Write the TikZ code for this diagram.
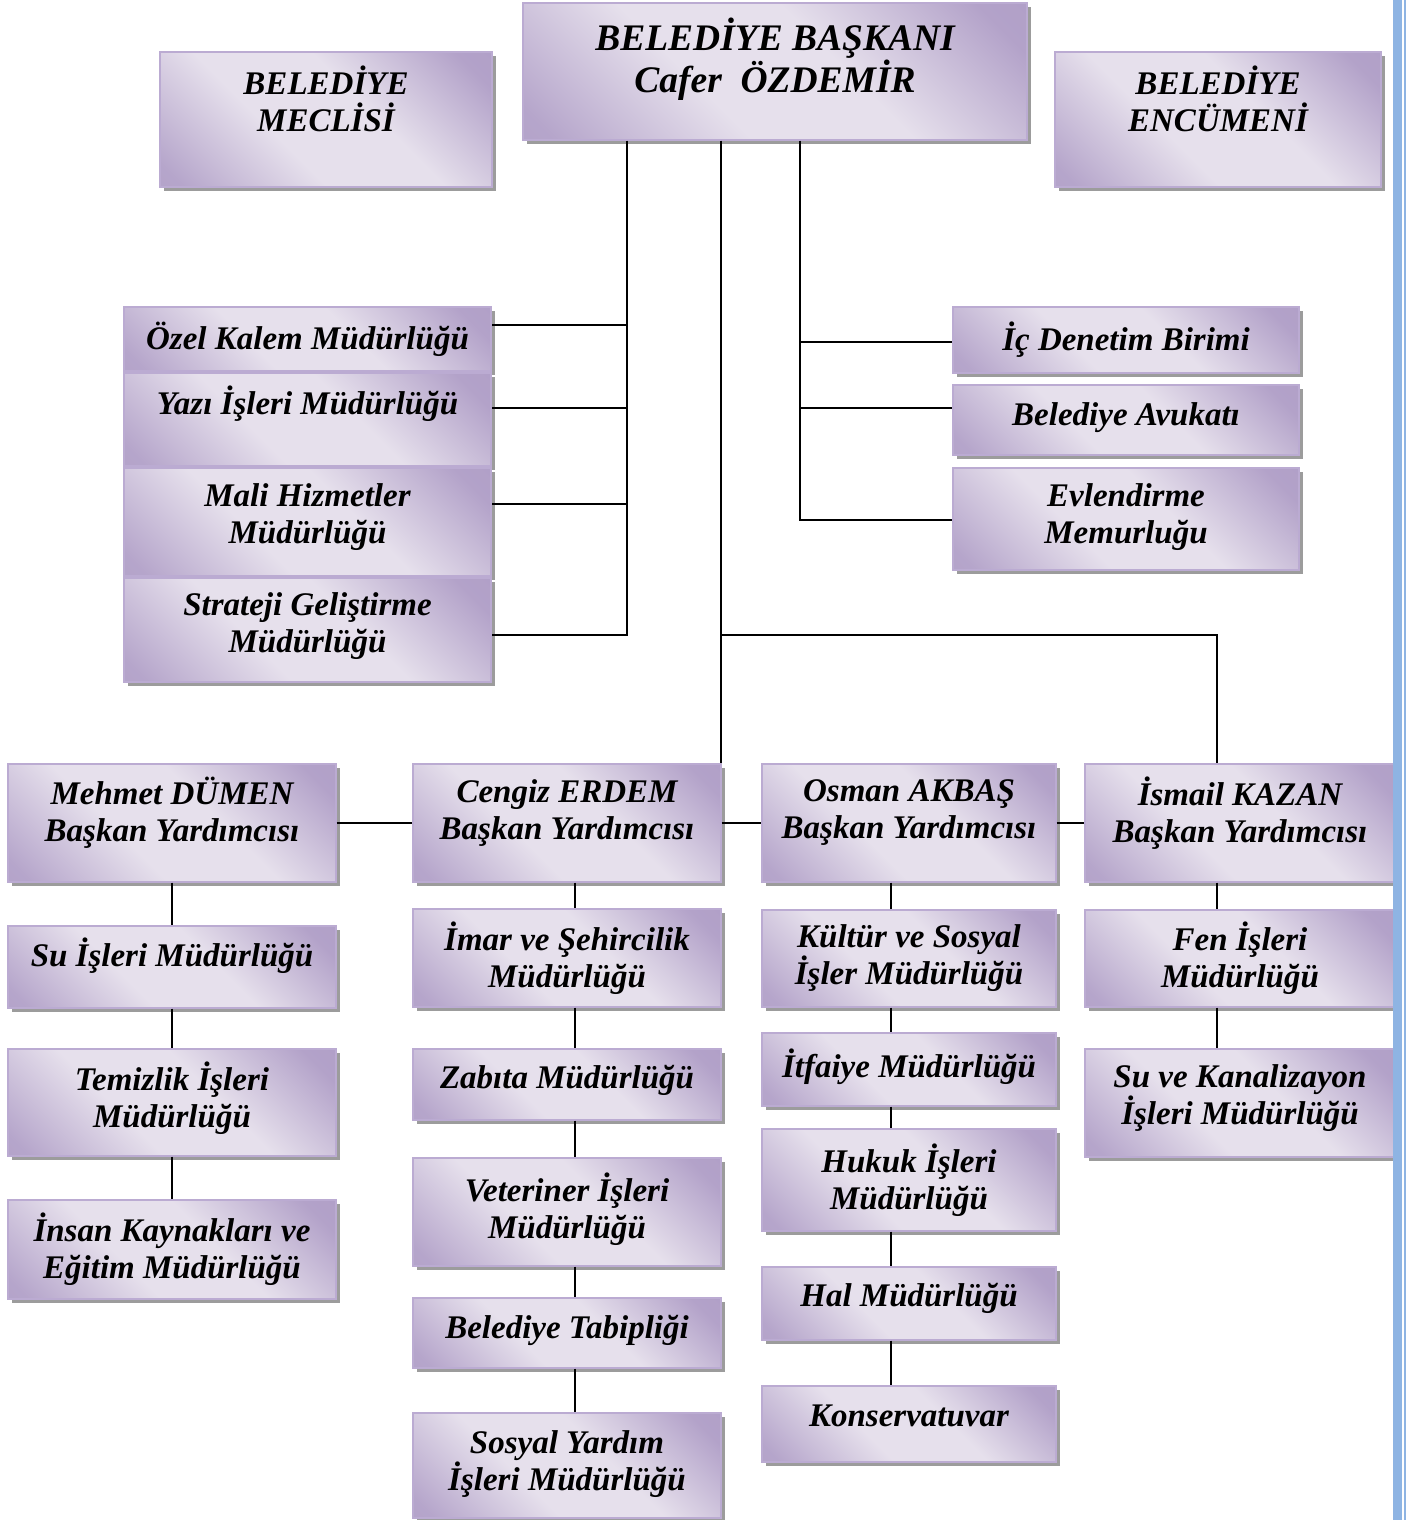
\documentclass[tikz,border=0pt]{standalone}
\usepackage{fontspec}
\setmainfont{Liberation Serif}
\usetikzlibrary{shadows}
\definecolor{boxdark}{HTML}{AD9BC5}
\definecolor{boxlight}{HTML}{E6E0EC}
\definecolor{boxline}{HTML}{BBABD2}
\definecolor{shadowgray}{HTML}{9C9C9C}
\definecolor{barblue}{HTML}{8EB4E3}
\pgfdeclarehorizontalshading{lavender}{100bp}{color(0bp)=(boxdark); color(18bp)=(boxdark!85!boxlight); color(40bp)=(boxlight); color(58bp)=(boxlight); color(80bp)=(boxdark!90!boxlight); color(100bp)=(boxdark)}
\tikzset{
unit/.style={
	draw=boxline, line width=1.2pt, shading=lavender, shading angle=45,
	general shadow={fill=shadowgray, shadow xshift=4pt, shadow yshift=-4pt},
	inner sep=0pt},
txt/.style={align=center, font=\bfseries\itshape\fontsize{33}{37}\selectfont},
link/.style={line width=1.6pt}
}

\begin{document}
\begin{tikzpicture}[x=1pt, y=-1pt]
	\useasboundingbox[fill=white] (0,0) rectangle (1409,1520);
	% top row
	\node[unit, minimum width=332, minimum height=135, label={[txt, yshift=21pt]center:{BELEDİYE\\MECLİSİ}}] (meclis) at (326,119.5) {};
	\node[unit, minimum width=504, minimum height=137, label={[txt, font=\bfseries\itshape\fontsize{37.5}{42}\selectfont, yshift=12pt]center:{BELEDİYE BAŞKANI\\Cafer~ ÖZDEMİR}}] (baskan) at (775,71.5) {};
	\node[unit, minimum width=326, minimum height=135, label={[txt, yshift=21pt]center:{BELEDİYE\\ENCÜMENİ}}] (encumen) at (1218,119.5) {};
	% staff units
	\node[unit, minimum width=367, minimum height=64, label={[txt]center:Özel Kalem Müdürlüğü}] (ozel) at (307.5,339) {};
	\node[unit, minimum width=367, minimum height=93, label={[txt, yshift=16pt]center:Yazı İşleri Müdürlüğü}] (yazi) at (307.5,419.5) {};
	\node[unit, minimum width=367, minimum height=108, label={[txt, yshift=5pt]center:{Mali Hizmetler\\Müdürlüğü}}] (mali) at (307.5,522) {};
	\node[unit, minimum width=367, minimum height=104, label={[txt, yshift=4pt]center:{Strateji Geliştirme\\Müdürlüğü}}] (strateji) at (307.5,630) {};
	\node[unit, minimum width=346, minimum height=66, label={[txt]center:İç Denetim Birimi}] (icdenetim) at (1126,340) {};
	\node[unit, minimum width=346, minimum height=70, label={[txt, yshift=2pt]center:Belediye Avukatı}] (avukat) at (1126,420) {};
	\node[unit, minimum width=346, minimum height=102, label={[txt, yshift=2pt]center:{Evlendirme\\Memurluğu}}] (evlendirme) at (1126,519) {};
	% deputies
	\node[unit, minimum width=328, minimum height=118, label={[txt, yshift=10pt]center:{Mehmet DÜMEN\\Başkan Yardımcısı}}] (dumen) at (172,823) {};
	\node[unit, minimum width=308, minimum height=118, label={[txt, yshift=10pt]center:{Cengiz ERDEM\\Başkan Yardımcısı}}] (erdem) at (567,823) {};
	\node[unit, minimum width=294, minimum height=118, label={[txt, yshift=10pt]center:{Osman AKBAŞ\\Başkan Yardımcısı}}] (akbas) at (909,823) {};
	\node[unit, minimum width=310, minimum height=118, label={[txt, yshift=10pt]center:{İsmail KAZAN\\Başkan Yardımcısı}}] (kazan) at (1240,823) {};
	% directorates
	\node[unit, minimum width=328, minimum height=82, label={[txt, yshift=11pt]center:Su İşleri Müdürlüğü}] (su) at (172,967) {};
	\node[unit, minimum width=328, minimum height=107, label={[txt, yshift=4pt]center:{Temizlik İşleri\\Müdürlüğü}}] (temizlik) at (172,1102.5) {};
	\node[unit, minimum width=328, minimum height=99, label={[txt]center:{İnsan Kaynakları ve\\Eğitim Müdürlüğü}}] (insan) at (172,1249.5) {};
	\node[unit, minimum width=308, minimum height=98, label={[txt]center:{İmar ve Şehircilik\\Müdürlüğü}}] (imar) at (567,958) {};
	\node[unit, minimum width=308, minimum height=71, label={[txt, yshift=4pt]center:Zabıta Müdürlüğü}] (zabita) at (567,1084.5) {};
	\node[unit, minimum width=308, minimum height=108, label={[txt, yshift=3pt]center:{Veteriner İşleri\\Müdürlüğü}}] (veteriner) at (567,1212) {};
	\node[unit, minimum width=308, minimum height=70, label={[txt, yshift=3pt]center:Belediye Tabipliği}] (tabip) at (567,1333) {};
	\node[unit, minimum width=308, minimum height=105, label={[txt, yshift=1pt]center:{Sosyal Yardım\\İşleri Müdürlüğü}}] (sosyal) at (567,1465.5) {};
	\node[unit, minimum width=294, minimum height=97, label={[txt]center:{Kültür ve Sosyal\\İşler Müdürlüğü}}] (kultur) at (909,958.5) {};
	\node[unit, minimum width=294, minimum height=73, label={[txt, yshift=3pt]center:İtfaiye Müdürlüğü}] (itfaiye) at (909,1069.5) {};
	\node[unit, minimum width=294, minimum height=102, label={[txt]center:{Hukuk İşleri\\Müdürlüğü}}] (hukuk) at (909,1180) {};
	\node[unit, minimum width=294, minimum height=73, label={[txt, yshift=5pt]center:Hal Müdürlüğü}] (hal) at (909,1303.5) {};
	\node[unit, minimum width=294, minimum height=76, label={[txt, yshift=8pt]center:Konservatuvar}] (konserv) at (909,1424) {};
	\node[unit, minimum width=310, minimum height=97, label={[txt]center:{Fen İşleri\\Müdürlüğü}}] (fen) at (1240,958.5) {};
	\node[unit, minimum width=310, minimum height=108, label={[txt, yshift=5pt]center:{Su ve Kanalizayon\\İşleri Müdürlüğü}}] (kanal) at (1240,1103) {};

	% buses from the mayor
	\coordinate (lb) at (627,635);
	\coordinate (l1) at (627,325);
	\coordinate (l2) at (627,408);
	\coordinate (l3) at (627,504);
	\coordinate (rb) at (800,520);
	\coordinate (r1) at (800,342);
	\coordinate (r2) at (800,408);
	\coordinate (cb) at (721,635);
	\coordinate (kb) at (1217,635);
	\draw[link] (baskan.south -| lb) -- (lb) -- (lb -| strateji.east);
	\draw[link] (l1) -- (l1 -| ozel.east);
	\draw[link] (l2) -- (l2 -| yazi.east);
	\draw[link] (l3) -- (l3 -| mali.east);
	\draw[link] (baskan.south -| rb) -- (rb) -- (rb -| evlendirme.west);
	\draw[link] (r1) -- (r1 -| icdenetim.west);
	\draw[link] (r2) -- (r2 -| avukat.west);
	\draw[link] (baskan.south -| cb) -- (cb |- erdem.north);
	\draw[link] (cb) -- (kb) -- (kb |- kazan.north);
	% deputies row
	\draw[link] (dumen.east) -- (erdem.west);
	\draw[link] (erdem.east) -- (akbas.west);
	\draw[link] (akbas.east) -- (kazan.west);
	% columns
	\foreach \a/\b in {dumen/su, su/temizlik, temizlik/insan}
		\draw[link] (\a.south) -- (\b.north);
	\foreach \a/\b in {erdem/imar, imar/zabita, zabita/veteriner, veteriner/tabip, tabip/sosyal}
		\draw[link] ([xshift=8pt]\a.south) -- ([xshift=8pt]\b.north);
	\foreach \a/\b in {akbas/kultur, kultur/itfaiye, itfaiye/hukuk, hukuk/hal, hal/konserv}
		\draw[link] ([xshift=-18pt]\a.south) -- ([xshift=-18pt]\b.north);
	\foreach \a/\b in {kazan/fen, fen/kanal}
		\draw[link] ([xshift=-23pt]\a.south) -- ([xshift=-23pt]\b.north);

	% page border on the right
	\fill[barblue] (1393,0) rectangle (1402,1520);
	\fill[barblue] (1404,0) rectangle (1406,1520);
\end{tikzpicture}
\end{document}
